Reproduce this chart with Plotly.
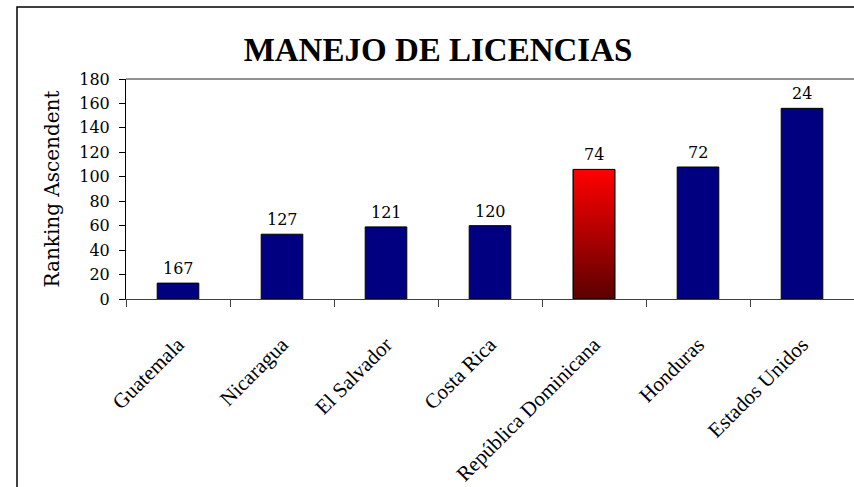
import plotly.graph_objects as go

categories = ["Guatemala", "Nicaragua", "El Salvador", "Costa Rica",
              "República Dominicana", "Honduras", "Estados Unidos"]
rank_labels = [167, 127, 121, 120, 74, 72, 24]
bar_heights = [13, 53, 59, 60, 106, 108, 156]
highlight = "República Dominicana"
y_ticks = [0, 20, 40, 60, 80, 100, 120, 140, 160, 180]

NAVY = "#000080"
BAR_W = 0.4
SERIF = "Liberation Serif, Times New Roman, serif"
WIDE_SERIF = "DejaVu Serif, Liberation Serif, serif"
num_font = dict(family=WIDE_SERIF, size=16, color="black")

colors = [("#FF0000" if c == highlight else NAVY) for c in categories]

fig = go.Figure()
fig.add_trace(go.Bar(
    x=categories, y=bar_heights, width=BAR_W,
    marker=dict(color=colors, line=dict(color="black", width=1)),
    hoverinfo="x+y", showlegend=False,
))

# gradient overlay for highlighted bar on a hidden numeric overlay axis
hi = categories.index(highlight)
hv = bar_heights[hi]
fig.add_trace(go.Scatter(
    x=[hi - BAR_W / 2, hi + BAR_W / 2, hi + BAR_W / 2, hi - BAR_W / 2, hi - BAR_W / 2],
    y=[0, 0, hv, hv, 0],
    xaxis="x2", mode="lines", fill="toself",
    line=dict(color="black", width=1),
    fillgradient=dict(type="vertical",
                      colorscale=[[0, "#5A0000"], [0.5, "#B00000"], [1, "#FF0000"]]),
    hoverinfo="skip", showlegend=False,
))

for c, h, r in zip(categories, bar_heights, rank_labels):
    fig.add_annotation(x=c, y=h, text=str(r), showarrow=False,
                       yanchor="bottom", yshift=3, font=num_font)

fig.update_layout(
    width=854, height=487,
    margin=dict(l=126, r=0, t=79, b=188),
    paper_bgcolor="white", plot_bgcolor="white",
    title=dict(text="<b>MANEJO DE LICENCIAS</b>", x=438 / 854, xanchor="center",
               y=1 - 49 / 487, yanchor="middle",
               font=dict(family=SERIF, size=33, color="black")),
    xaxis=dict(
        type="category", range=[-0.5, 6.5], tickson="boundaries",
        automargin=False,
        ticks="outside", ticklen=7, tickcolor="#404040",
        showline=True, linecolor="#404040", linewidth=1,
        showgrid=False, tickangle=-45, ticklabelstandoff=24,
        tickfont=dict(family=SERIF, size=21, color="black"),
    ),
    xaxis2=dict(overlaying="x", range=[-0.5, 6.5], visible=False, showgrid=False),
    yaxis=dict(
        range=[0, 180], tickvals=y_ticks, ticks="outside", ticklen=6,
        automargin=False,
        tickcolor="black", showline=True, linecolor="black", linewidth=1,
        showgrid=False, zeroline=False, tickfont=num_font,
        ticklabelstandoff=6,
        title=dict(text="Ranking Ascendent", standoff=14,
                   font=dict(family=WIDE_SERIF, size=20, color="black")),
    ),
    bargap=0.6,
    shapes=[
        dict(type="line", xref="paper", yref="paper", x0=0, x1=1, y0=1, y1=1,
             line=dict(color="#909090", width=2)),
        dict(type="rect", xref="paper", yref="paper",
             x0=(17 - 126) / 728, x1=1.05, y0=-2, y1=1 + (79 - 7) / 220,
             line=dict(color="black", width=1.5), layer="below"),
    ],
)

fig.write_html("out.html", config={"displayModeBar": False},
               post_script="document.body.style.margin='0';document.body.style.overflow='hidden';")
